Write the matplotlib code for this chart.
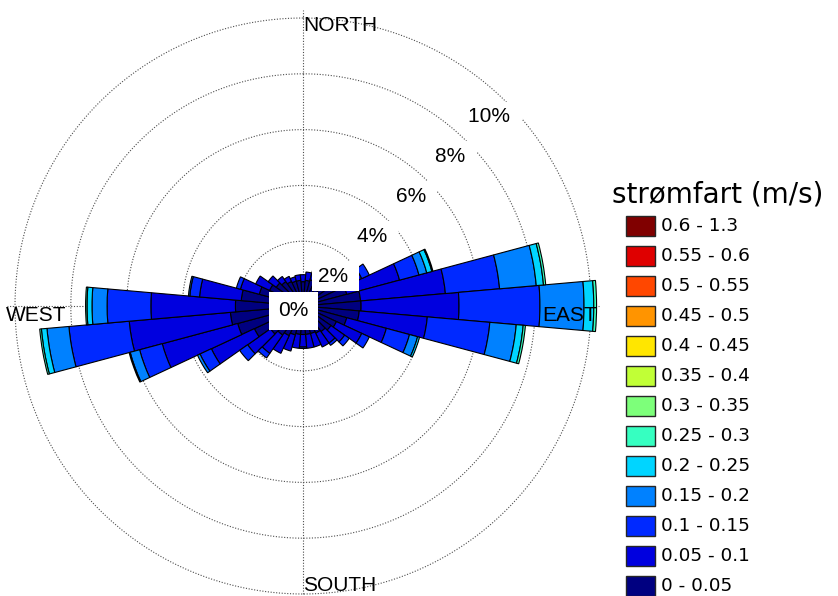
import numpy as np
import matplotlib.pyplot as plt
from matplotlib.patches import Rectangle

# current rose: % of time per 10 degree sector, split by speed class (m/s)
directions = np.arange(0, 360, 10)

speed_labels = ['0 - 0.05', '0.05 - 0.1', '0.1 - 0.15', '0.15 - 0.2', '0.2 - 0.25',
                '0.25 - 0.3', '0.3 - 0.35', '0.35 - 0.4', '0.4 - 0.45', '0.45 - 0.5',
                '0.5 - 0.55', '0.55 - 0.6', '0.6 - 1.3']

#              0     10    20    30    40    50    60    70    80    90    100   110
f_000_005 = [0.55, 0.60, 0.65, 0.70, 0.80, 0.90, 1.00, 1.30, 1.75, 1.76, 1.70, 1.30,
             # 120  130   140   150   160   170   180   190   200   210   220   230
             1.00, 0.90, 0.80, 0.75, 0.70, 0.70, 0.70, 0.70, 0.75, 0.85, 0.95, 1.10,
             # 240  250   260   270   280   290   300   310   320   330   340   350
             1.60, 2.10, 2.29, 2.10, 1.90, 1.30, 1.00, 0.85, 0.75, 0.65, 0.60, 0.60]
f_005_010 = [0.25, 0.30, 0.35, 0.50, 0.60, 0.80, 1.00, 1.96, 3.05, 3.51, 2.45, 1.47,
             1.00, 0.60, 0.50, 0.55, 0.50, 0.50, 0.45, 0.50, 0.60, 0.70, 0.80, 1.00,
             1.70, 2.80, 3.64, 3.03, 1.50, 0.70, 0.55, 0.35, 0.22, 0.20, 0.16, 0.20]
f_010_015 = [0.00, 0.00, 0.00, 0.00, 0.10, 0.20, 0.30, 0.72, 1.95, 2.90, 2.25, 0.86,
             0.30, 0.20, 0.10, 0.00, 0.00, 0.00, 0.05, 0.00, 0.00, 0.00, 0.20, 0.35,
             0.45, 0.84, 2.17, 1.57, 0.35, 0.15, 0.00, 0.00, 0.00, 0.00, 0.00, 0.00]
f_015_020 = [0.00, 0.00, 0.00, 0.00, 0.00, 0.00, 0.00, 0.29, 1.32, 1.58, 0.95, 0.30,
             0.00, 0.00, 0.00, 0.00, 0.00, 0.00, 0.00, 0.00, 0.00, 0.00, 0.00, 0.00,
             0.10, 0.35, 0.79, 0.54, 0.05, 0.00, 0.00, 0.00, 0.00, 0.00, 0.00, 0.00]
f_020_025 = [0.00, 0.00, 0.00, 0.00, 0.00, 0.00, 0.00, 0.19, 0.26, 0.35, 0.25, 0.07,
             0.00, 0.00, 0.00, 0.00, 0.00, 0.00, 0.00, 0.00, 0.00, 0.00, 0.00, 0.00,
             0.00, 0.04, 0.20, 0.18, 0.00, 0.00, 0.00, 0.00, 0.00, 0.00, 0.00, 0.00]
f_025_030 = [0.00, 0.00, 0.00, 0.00, 0.00, 0.00, 0.00, 0.04, 0.08, 0.10, 0.08, 0.00,
             0.00, 0.00, 0.00, 0.00, 0.00, 0.00, 0.00, 0.00, 0.00, 0.00, 0.00, 0.00,
             0.00, 0.00, 0.06, 0.05, 0.00, 0.00, 0.00, 0.00, 0.00, 0.00, 0.00, 0.00]

ring_levels = [2, 4, 6, 8, 10]

classes = [f_000_005, f_005_010, f_010_015, f_015_020, f_020_025, f_025_030]
colors = plt.cm.jet(np.linspace(0, 1, len(speed_labels)))

W, H = 838, 596
fig = plt.figure(figsize=(W / 100, H / 100), dpi=100)

# polar axes, center at (303, 306) px, 10 % ring at 288 px
cx, cy = 303, 306
rmax, rorig = 10.5, -0.3226
R = 27.9 * (rmax - rorig)
ax = fig.add_axes([(cx - R) / W, (H - cy - R) / H, 2 * R / W, 2 * R / H], projection='polar')
ax.set_theta_zero_location('N')
ax.set_theta_direction(-1)
ax.set_ylim(0, rmax)
ax.set_rorigin(rorig)
ax.set_xticks([])
ax.set_yticks([])
ax.grid(False)
ax.spines['polar'].set_visible(False)
ax.patch.set_alpha(0)

dots = dict(color='0.3', lw=0.8, linestyle=(0, (1, 1.5)), zorder=1)
th = np.linspace(0, 2 * np.pi, 721)
for p in ring_levels:
    ax.plot(th, np.full_like(th, p), **dots)
ax.vlines(np.deg2rad([0, 90, 180, 270]), 0, 10.3, **dots)

theta = np.deg2rad(directions)
bottom = np.zeros(len(directions))
for i, vals in enumerate(classes):
    vals = np.array(vals)
    m = vals > 0
    ax.bar(theta[m], vals[m], width=np.deg2rad(10), bottom=bottom[m],
           color=colors[i], edgecolor='k', linewidth=0.8, zorder=3)
    bottom += vals

lab = dict(family='Liberation Sans', fontsize=15, color='k', zorder=6)
for p in ring_levels:
    ax.annotate(f'{p}% ', xy=(np.deg2rad(44.5), p - 0.82), xytext=(2.2, 0),
                textcoords='offset points', ha='center', va='center',
                bbox=dict(boxstyle='square,pad=0.28', fc='w', ec='none'), **lab)
ax.annotate('0%', xy=(0.5, 0.5), xycoords='axes fraction', xytext=(-6.8, -3.6),
            textcoords='offset points', ha='center', va='center',
            bbox=dict(boxstyle='square,pad=0.45', fc='w', ec='none'), **lab)

ax.text(0.0, 10.08, 'NORTH', ha='left', va='top', **lab)
ax.text(np.pi, 9.9, 'SOUTH', ha='left', va='baseline', **lab)
ax.text(np.deg2rad(270), 10.32, 'WEST', ha='left', va='top', **lab)
ax.text(np.deg2rad(90), 10.2, 'EAST', ha='right', va='top', **lab)

# legend, highest class on top
fig.text(612 / W, 1 - 194 / H, 'strømfart (m/s)', family='DejaVu Sans', fontsize=20,
         ha='left', va='center')
n = len(speed_labels)
for k in range(n):
    i = n - 1 - k
    yc = 226 + 30 * k
    fig.patches.append(Rectangle((626 / W, 1 - (yc + 10) / H), 29 / W, 20 / H,
                                 transform=fig.transFigure, fc=colors[i], ec='0.15', lw=1))
    fig.text(661 / W, 1 - yc / H, speed_labels[i], family='DejaVu Sans', fontsize=13.3,
             ha='left', va='center')

fig.savefig('out.png', dpi=100)
